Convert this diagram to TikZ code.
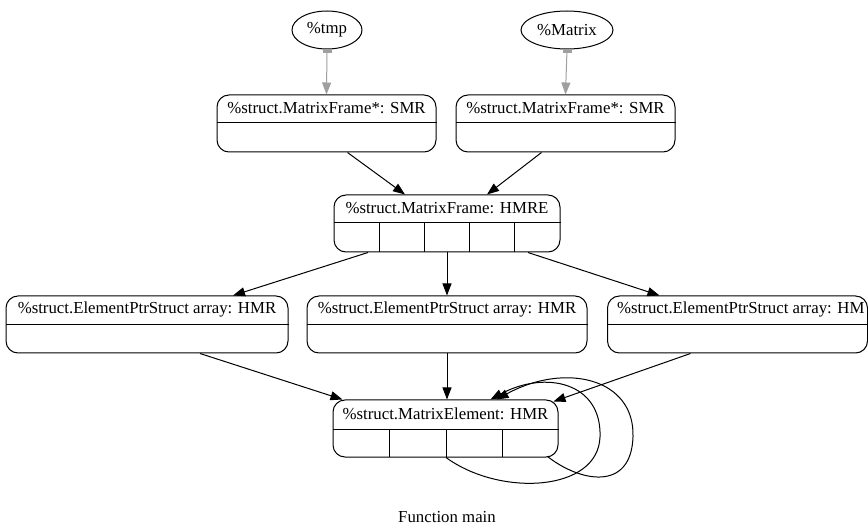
\documentclass[tikz,border=0pt]{standalone}
\usepackage{fontspec}
\setmainfont{Liberation Serif}
\usetikzlibrary{arrows.meta,shapes.geometric,calc}
\begin{document}
\begin{tikzpicture}[x=1pt,y=-1pt,
  every node/.style={font=\fontsize{16.8}{20}\selectfont, inner sep=0pt},
  rec/.style={draw, rounded corners=12pt, line width=1pt, minimum height=57pt},
  ell/.style={draw, ellipse, line width=1pt, minimum height=38pt},
  div/.style={line width=1pt},
  edge/.style={line width=1pt, -{Triangle[length=12pt,width=9pt]}},
  gedge/.style={line width=1pt, draw=gray!75, -{Triangle[length=12pt,width=9pt,fill=gray!75]}},
  gtail/.style={fill=gray!75}
]
\useasboundingbox (0,0) rectangle (868,529);

% top ellipses
\node[ell, minimum width=70pt] (t) at (327,30) {\%tmp};
\node[ell, minimum width=92pt] (m) at (567,30) {\%Matrix};

% SMR boxes
\node[rec, minimum width=219pt] (s1) at (326.5,123.5) {};
\node (s1l) at (326.5,108.5) {\%struct.MatrixFrame*: SMR};
\draw[div] (s1.west |- 0,123) -- (s1.east |- 0,123);
\node[rec, minimum width=219pt] (s2) at (565.5,123.5) {};
\node (s2l) at (565.5,108.5) {\%struct.MatrixFrame*: SMR};
\draw[div] (s2.west |- 0,123) -- (s2.east |- 0,123);

% HMRE box
\node[rec, minimum width=226pt] (f) at (447,223.5) {};
\node (fl) at (447,208.5) {\%struct.MatrixFrame: HMRE};
\draw[div] (f.west |- 0,223) -- (f.east |- 0,223);
\foreach \xx in {379,424,469,514} \draw[div] (\xx,223) -- (\xx,252);

% array boxes
\node[rec, minimum width=282pt] (a1) at (147,324.5) {};
\node (a1l) at (147,309.5) {\%struct.ElementPtrStruct array: HMR};
\draw[div] (a1.west |- 0,325) -- (a1.east |- 0,325);
\node[rec, minimum width=280pt] (a2) at (447,324.5) {};
\node (a2l) at (447,309.5) {\%struct.ElementPtrStruct array: HMR};
\draw[div] (a2.west |- 0,325) -- (a2.east |- 0,325);
\node[rec, minimum width=260pt] (a3) at (737.5,324.5) {};
\node[anchor=west] (a3l) at (617,309.5) {\%struct.ElementPtrStruct array: HM};
\draw[div] (a3.west |- 0,325) -- (a3.east |- 0,325);

% MatrixElement box
\node[rec, minimum width=225pt] (e) at (445.5,428.5) {};
\node (el) at (445.5,413.5) {\%struct.MatrixElement: HMR};
\draw[div] (e.west |- 0,429) -- (e.east |- 0,429);
\foreach \xx in {389,446,502} \draw[div] (\xx,429) -- (\xx,457);

% caption
\node (cap) at (447,517) {Function main};

% edges
\draw[gedge] (t.south) -- (s1.north);
\fill[gtail] ([xshift=-4.5pt]t.south) rectangle ([xshift=4.5pt,yshift=-3.5pt]t.south);
\draw[gedge] (m.south) -- (s2.north);
\fill[gtail] ([xshift=-4.5pt]m.south) rectangle ([xshift=4.5pt,yshift=-3.5pt]m.south);
\draw[edge] ([xshift=21pt]s1.south) -- ([xshift=-42pt]f.north);
\draw[edge] ([xshift=-24pt]s2.south) -- ([xshift=40pt]f.north);
\draw[edge] ([xshift=-79pt]f.south) -- ([xshift=86pt]a1.north);
\draw[edge] (f.south) -- (a2.north);
\draw[edge] ([xshift=81pt]f.south) -- ([xshift=-78pt]a3.north);
\draw[edge] ([xshift=53pt]a1.south) -- ([xshift=-103pt]e.north);
\draw[edge] (a2.south) -- ([xshift=1.5pt]e.north);
\draw[edge] ([xshift=-47pt]a3.south) -- ([xshift=108pt,yshift=-2pt]e.north);
% self loops
\draw[edge] ([xshift=0.5pt]e.south) .. controls (500,497) and (598,492) .. (600,437)
   .. controls (602,382) and (545,370) .. ([xshift=45pt]e.north);
\draw[edge] ([xshift=102pt,yshift=1pt]e.south) .. controls (580,482) and (631,492) .. (633,437)
   .. controls (635,378) and (565,362) .. ([xshift=51pt]e.north);
\end{tikzpicture}
\end{document}
